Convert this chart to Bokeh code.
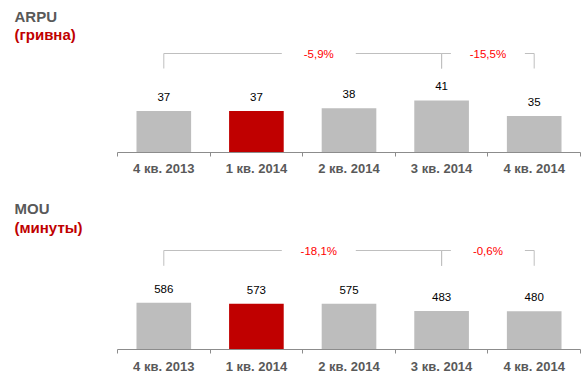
from bokeh.plotting import figure
from bokeh.layouts import column
from bokeh.models import Range1d, FixedTicker, ColumnDataSource
from bokeh.core.properties import value
from bokeh.embed import file_html
from bokeh.resources import INLINE

# ---------------- data ----------------
quarters = ["4 кв. 2013", "1 кв. 2014", "2 кв. 2014", "3 кв. 2014", "4 кв. 2014"]
arpu = [37, 37, 38, 41, 35]
mou = [586, 573, 575, 483, 480]
highlight = "1 кв. 2014"
change_pairs = [("4 кв. 2013", "3 кв. 2014"), ("3 кв. 2014", "4 кв. 2014")]
arpu_changes = ["-5,9%", "-15,5%"]
mou_changes = ["-18,1%", "-0,6%"]

# ---------------- style / layout ----------------
FONT = "Liberation Sans"
W = 588
CAT_W = 92.6           # px per category
LEFT_PX = 117          # px left of first category
RIGHT_PX = 8           # px right of last category
GRAY = "#BDBDBD"
RED = "#C00000"
LINE = "#BFBFBF"
AXIS = "#8C8C8C"
LABEL_FRAC = [0.558, 0.5]
GAP_PX = 37
TITLE_X = 14


def make_panel(title, unit, values, changes, y_start, y_end, height, bottom_px,
               title_py, unit_py, br_py, br_tick_py, standoff):
    n = len(quarters)
    x_start = -0.5 - LEFT_PX / CAT_W
    x_end = n - 0.5 + RIGHT_PX / CAT_W
    frame_h = height - bottom_px

    def ypx(py):
        return y_end - py * (y_end - y_start) / frame_h

    p = figure(width=W, height=height, x_range=Range1d(x_start, x_end),
               y_range=Range1d(y_start, y_end), output_backend="svg",
               toolbar_location=None, y_axis_location=None,
               min_border_left=0, min_border_right=0, min_border_top=0,
               min_border_bottom=bottom_px)
    p.outline_line_color = None
    p.xgrid.visible = False
    p.ygrid.visible = False
    p.background_fill_color = "white"
    p.border_fill_color = "white"

    xs = list(range(n))
    colors = [RED if q == highlight else GRAY for q in quarters]
    src = ColumnDataSource(dict(x=xs, top=values, color=colors,
                                lab=[str(v) for v in values]))
    p.vbar(x="x", top="top", bottom=y_start, width=0.59, color="color",
           line_color=None, source=src)
    p.text(x="x", y="top", text="lab", source=src, text_align="center",
           text_baseline="middle", y_offset=-14, text_font=value(FONT),
           text_font_size="11.5px", text_color="black")

    # axis
    ax = p.xaxis[0]
    ax.ticker = FixedTicker(ticks=xs, minor_ticks=[i - 0.5 for i in range(n + 1)])
    ax.major_label_overrides = {i: q for i, q in enumerate(quarters)}
    ax.bounds = (-0.5, n - 0.5)
    ax.axis_line_color = AXIS
    ax.major_tick_out = 0
    ax.major_tick_in = 0
    ax.minor_tick_out = 4
    ax.minor_tick_in = 0
    ax.minor_tick_line_color = AXIS
    ax.major_label_standoff = standoff
    ax.major_label_text_font = FONT
    ax.major_label_text_font_style = "bold"
    ax.major_label_text_font_size = "13px"
    ax.major_label_text_color = "#595959"

    # titles
    tx = x_start + TITLE_X / CAT_W
    p.text(x=[tx], y=[ypx(title_py)], text=[title], text_font=value(FONT),
           text_font_style="bold", text_font_size="15px", text_color="#595959",
           text_baseline="middle", text_align="left")
    p.text(x=[tx], y=[ypx(unit_py)], text=[unit], text_font=value(FONT),
           text_font_style="bold", text_font_size="15px", text_color=RED,
           text_baseline="middle", text_align="left")

    # change brackets
    yb = ypx(br_py)
    yt = ypx(br_tick_py)
    gap = GAP_PX / CAT_W
    for (a, b), lab, fr in zip(change_pairs, changes, LABEL_FRAC):
        xa = quarters.index(a)
        xb = quarters.index(b)
        xl = xa + (xb - xa) * fr
        p.segment(x0=[xa, xl + gap], y0=[yb, yb], x1=[xl - gap, xb], y1=[yb, yb],
                  line_color=LINE, line_width=1)
        p.segment(x0=[xa, xb], y0=[yb, yb], x1=[xa, xb], y1=[yt, yt],
                  line_color=LINE, line_width=1)
        p.text(x=[xl], y=[yb], text=[lab], text_align="center",
               text_baseline="middle", text_font=value(FONT),
               text_font_size="11.5px", text_color="#FF0000")
    return p


p1 = make_panel("ARPU", "(гривна)", arpu, arpu_changes, 21.1, 21.1 + 152 / 2.617,
                186, 34, 16, 34, 53, 68, 4)
p2 = make_panel("MOU", "(минуты)", mou, mou_changes, 0, 163 / 0.0797,
                194, 31, 22, 40.7, 64, 79.3, 5)

layout = column(p1, p2, spacing=0)
open("out.html", "w").write(file_html(layout, INLINE))
